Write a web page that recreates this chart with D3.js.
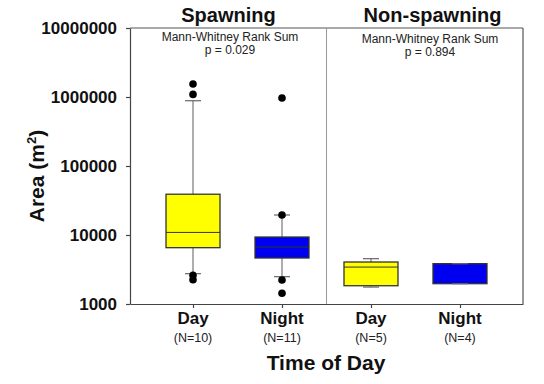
<!DOCTYPE html>
<html>
<head>
<meta charset="utf-8">
<script src="https://cdn.jsdelivr.net/npm/d3@7"></script>
<style>
  body { margin: 0; background: #fff; }
  text { font-family: "Liberation Sans", Arial, sans-serif; }
</style>
</head>
<body>
<svg id="chart" width="544" height="384"></svg>
<script>
// box plot values (area, m^2)
let groups = ['sp-day', 'sp-night', 'ns-day', 'ns-night'];
let dayNight = ['Day', 'Night', 'Day', 'Night'];
let counts = ['(N=10)', '(N=11)', '(N=5)', '(N=4)'];
let q1 = [6550, 4640, 1840, 1970];
let median = [10900, 6700, 3430, 3840];
let q3 = [39000, 9350, 4060, 3840];
let whiskLow = [2750, 2490, 1760, 1970];
let whiskHigh = [883000, 19500, 4540, 3840];
let outliers = [[1540000, 1090000, 2600, 2250], [968000, 19500, 2230, 1430], [], []];
let panels = ['Spawning', 'Non-spawning'];
let pValues = ['p = 0.029', 'p = 0.894'];
let yTicks = [1000, 10000, 100000, 1000000, 10000000];

let svg = d3.select('#chart');
let mLeft = 130, mRight = 523, mTop = 28, mBottom = 304;

let x = d3.scalePoint().domain(groups).range([mLeft, mRight]).padding(0.708);
let y = d3.scaleLog().domain([1000, 10000000]).range([mBottom, mTop]);
let boxW = 54, capW = 16;
let fill = d => d == 'Day' ? '#ffff00' : '#0000f0';

// frame + divider
let mid = (x('sp-night') + x('ns-day')) / 2;
svg.append('line').attr('x1', mLeft).attr('x2', mRight).attr('y1', mTop).attr('y2', mTop)
  .attr('stroke', '#555').attr('stroke-width', 1.2);
svg.append('line').attr('x1', mRight).attr('x2', mRight).attr('y1', mTop).attr('y2', mBottom)
  .attr('stroke', '#555').attr('stroke-width', 1.2);
svg.append('line').attr('x1', mid).attr('x2', mid).attr('y1', mTop).attr('y2', mBottom)
  .attr('stroke', '#999').attr('stroke-width', 1);

// axes
let yAxis = d3.axisLeft(y).tickValues(yTicks).tickFormat(d3.format('d')).tickSize(4).tickSizeOuter(0).tickPadding(9);
let gy = svg.append('g').attr('transform', `translate(${mLeft},0)`).call(yAxis);
gy.selectAll('text').style('font-size', '17px').style('font-weight', 'bold').attr('fill', '#111');
gy.selectAll('path, line').attr('stroke', '#444').attr('stroke-width', 1.2);

let xAxis = d3.axisBottom(x).tickSize(4).tickSizeOuter(0).tickFormat('');
let gx = svg.append('g').attr('transform', `translate(0,${mBottom})`).call(xAxis);
gx.selectAll('path, line').attr('stroke', '#444').attr('stroke-width', 1.2);

// boxes
let boxes = svg.append('g').selectAll('g').data(groups).join('g');
boxes.append('line')
  .attr('x1', d => x(d)).attr('x2', d => x(d))
  .attr('y1', (d, i) => y(whiskLow[i])).attr('y2', (d, i) => y(whiskHigh[i]))
  .attr('stroke', '#777').attr('stroke-width', 1.2);
boxes.append('rect')
  .attr('x', d => x(d) - boxW / 2).attr('width', boxW)
  .attr('y', (d, i) => y(q3[i])).attr('height', (d, i) => y(q1[i]) - y(q3[i]))
  .attr('fill', (d, i) => fill(dayNight[i])).attr('stroke', '#333').attr('stroke-width', 1.3);
boxes.append('line')
  .attr('x1', d => x(d) - boxW / 2).attr('x2', d => x(d) + boxW / 2)
  .attr('y1', (d, i) => y(median[i])).attr('y2', (d, i) => y(median[i]))
  .attr('stroke', '#333').attr('stroke-width', 1);
boxes.selectAll('.cap').data((d, i) => [whiskLow[i], whiskHigh[i]].map(v => ({g: d, v: v})))
  .join('line').attr('class', 'cap')
  .attr('x1', d => x(d.g) - capW / 2).attr('x2', d => x(d.g) + capW / 2)
  .attr('y1', d => y(d.v)).attr('y2', d => y(d.v))
  .attr('stroke', '#666').attr('stroke-width', 1.2);
boxes.selectAll('circle').data((d, i) => outliers[i].map(v => ({g: d, v: v})))
  .join('circle')
  .attr('cx', d => x(d.g)).attr('cy', d => y(d.v)).attr('r', 3.8)
  .attr('fill', '#000');

// category labels
groups.forEach((g, i) => {
  svg.append('text').attr('x', x(g)).attr('y', 324).attr('text-anchor', 'middle')
    .style('font-size', '17px').style('font-weight', 'bold').attr('fill', '#111').text(dayNight[i]);
  svg.append('text').attr('x', x(g)).attr('y', 342).attr('text-anchor', 'middle')
    .style('font-size', '12.5px').attr('fill', '#222').text(counts[i]);
});

// panel titles and stats
let panelCx = [228.5, 432.5];
let statCx = [230, 430];
panels.forEach((p, i) => {
  svg.append('text').attr('x', panelCx[i]).attr('y', 22).attr('text-anchor', 'middle')
    .style('font-size', '20px').style('font-weight', 'bold').attr('fill', '#111').text(p);
  svg.append('text').attr('x', statCx[i]).attr('y', 41 + i * 2).attr('text-anchor', 'middle')
    .style('font-size', '12px').attr('fill', '#222').text('Mann-Whitney Rank Sum');
  svg.append('text').attr('x', statCx[i]).attr('y', 54 + i * 2).attr('text-anchor', 'middle')
    .style('font-size', '12px').attr('fill', '#222').text(pValues[i]);
});

// axis titles
svg.append('text').attr('x', 326).attr('y', 370).attr('text-anchor', 'middle')
  .style('font-size', '21px').style('font-weight', 'bold').attr('fill', '#111').text('Time of Day');
let yt = svg.append('text').attr('transform', 'translate(44,176)rotate(-90)').attr('text-anchor', 'middle')
  .style('font-size', '21px').style('font-weight', 'bold').attr('fill', '#111');
yt.append('tspan').text('Area (m');
yt.append('tspan').attr('dy', -8).style('font-size', '13px').text('2');
yt.append('tspan').attr('dy', 8).text(')');
</script>
</body>
</html>
